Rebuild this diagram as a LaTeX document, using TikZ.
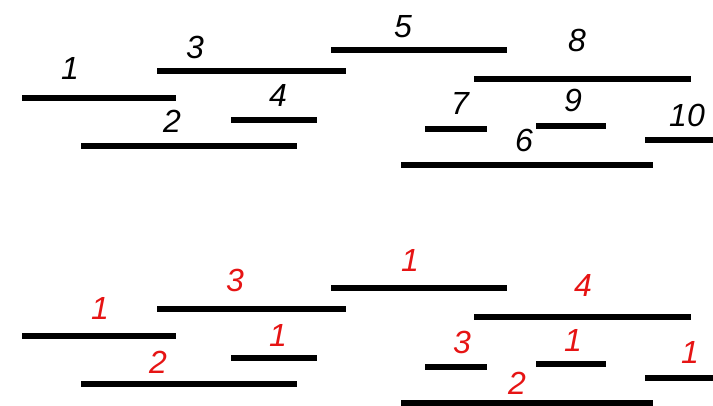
\documentclass[tikz,border=0pt]{standalone}
\usepackage{fontspec}
\setmainfont{Liberation Sans}
\usepackage{xcolor}
\usepackage{tikz}
\definecolor{countred}{RGB}{230,20,20}

\tikzset{
    seg/.style={line width=6.5pt},
    num/.style={font=\itshape\fontsize{32}{32}\selectfont, inner sep=0pt},
    cnt/.style={num, text=countred}
}

\begin{document}
\begin{tikzpicture}[x=1pt, y=-1pt]
    \useasboundingbox (0,0) rectangle (713,405);

    % segments, top copy
    \draw[seg] (22,98) coordinate (a1) -- (176,98) coordinate (b1);
    \draw[seg] (81,146) coordinate (a2) -- (297,146) coordinate (b2);
    \draw[seg] (157,71) coordinate (a3) -- (346,71) coordinate (b3);
    \draw[seg] (231,120) coordinate (a4) -- (317,120) coordinate (b4);
    \draw[seg] (331,50) coordinate (a5) -- (507,50) coordinate (b5);
    \draw[seg] (401,165) coordinate (a6) -- (653,165) coordinate (b6);
    \draw[seg] (425,129) coordinate (a7) -- (487,129) coordinate (b7);
    \draw[seg] (474,79) coordinate (a8) -- (691,79) coordinate (b8);
    \draw[seg] (536,126) coordinate (a9) -- (606,126) coordinate (b9);
    \draw[seg] (645,140) coordinate (a10) -- (713,140) coordinate (b10);

    % segment numbers
    \node[num] (n1) at (70,68) {1};
    \node[num] (n2) at (172,121) {2};
    \node[num] (n3) at (195,47) {3};
    \node[num] (n4) at (278,95) {4};
    \node[num] (n5) at (403,27) {5};
    \node[num] (n6) at (524,140) {6};
    \node[num] (n7) at (460,103) {7};
    \node[num] (n8) at (577,40) {8};
    \node[num] (n9) at (573,100) {9};
    \node[num] (n10) at (687,115) {10};

    % segments, bottom copy
    \draw[seg] (22,336) coordinate (c1) -- (176,336) coordinate (d1);
    \draw[seg] (81,384) coordinate (c2) -- (297,384) coordinate (d2);
    \draw[seg] (157,309) coordinate (c3) -- (346,309) coordinate (d3);
    \draw[seg] (231,358) coordinate (c4) -- (317,358) coordinate (d4);
    \draw[seg] (331,288) coordinate (c5) -- (507,288) coordinate (d5);
    \draw[seg] (401,403) coordinate (c6) -- (653,403) coordinate (d6);
    \draw[seg] (425,367) coordinate (c7) -- (487,367) coordinate (d7);
    \draw[seg] (474,317) coordinate (c8) -- (691,317) coordinate (d8);
    \draw[seg] (536,364) coordinate (c9) -- (606,364) coordinate (d9);
    \draw[seg] (645,378) coordinate (c10) -- (713,378) coordinate (d10);

    % counts
    \node[cnt] (k1) at (100,308) {1};
    \node[cnt] (k2) at (158,362) {2};
    \node[cnt] (k3) at (235,280) {3};
    \node[cnt] (k4) at (278,335) {1};
    \node[cnt] (k5) at (410,260) {1};
    \node[cnt] (k6) at (517,383) {2};
    \node[cnt] (k7) at (462,342) {3};
    \node[cnt] (k8) at (583,285) {4};
    \node[cnt] (k9) at (573,340) {1};
    \node[cnt] (k10) at (690,352) {1};
\end{tikzpicture}
\end{document}
